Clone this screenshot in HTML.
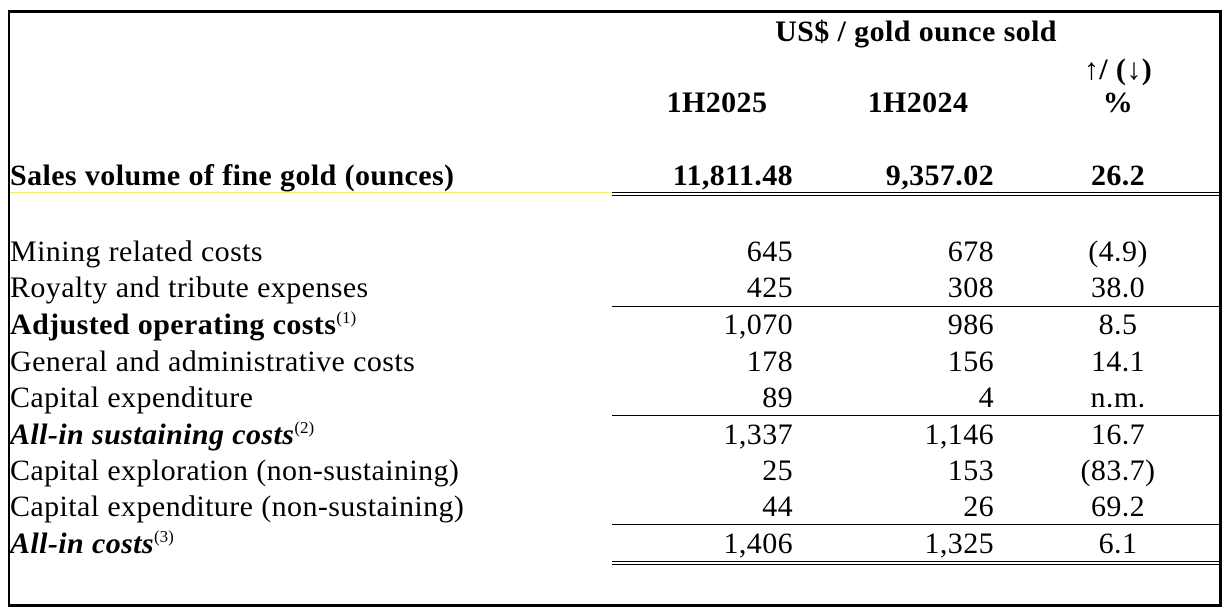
<!DOCTYPE html>
<html><head><meta charset="utf-8"><style>
body{margin:0;width:1229px;height:613px;background:#fff;position:relative;overflow:hidden;font-family:"Liberation Serif",serif;color:#000}
.t{position:absolute;font-size:30px;line-height:30px;white-space:nowrap;letter-spacing:0.4px}
.b{font-weight:bold}
.l{left:10px}
.c1{right:436px;text-align:right}
.c2{right:235px;text-align:right}
.c3{left:1018px;width:200px;text-align:center}
.h{position:absolute;background:#000;height:1px}
sup{font-size:17px;vertical-align:0;position:relative;top:-11px;letter-spacing:0}
</style></head><body>
<div style="position:absolute;left:8px;top:10px;width:1209px;height:591px;border-top:3px solid #000;border-left:2px solid #000;border-right:3px solid #000;border-bottom:3px solid #000"></div>
<div class="t b" style="left:716px;width:400px;text-align:center;top:17px">US$ / gold ounce sold</div>
<div class="t b" style="left:1018px;width:200px;text-align:center;top:55px">↑/ (↓)</div>
<div class="t b" style="left:617px;width:200px;text-align:center;top:88px">1H2025</div>
<div class="t b" style="left:818px;width:200px;text-align:center;top:88px">1H2024</div>
<div class="t b c3" style="top:88px">%</div>

<div class="t b l" style="top:161px">Sales volume of fine gold (ounces)</div>
<div class="t b c1" style="top:161px">11,811.48</div>
<div class="t b c2" style="top:161px">9,357.02</div>
<div class="t b c3" style="top:161px">26.2</div>
<div class="h" style="left:10px;width:602px;top:192px;background:#ff0"></div>
<div class="h" style="left:612px;width:607px;top:192px"></div>
<div class="h" style="left:612px;width:607px;top:195px"></div>

<div class="t l" style="top:237px">Mining related costs</div><div class="t c1" style="top:237px">645</div><div class="t c2" style="top:237px">678</div><div class="t c3" style="top:237px">(4.9)</div>
<div class="t l" style="top:273px">Royalty and tribute expenses</div><div class="t c1" style="top:273px">425</div><div class="t c2" style="top:273px">308</div><div class="t c3" style="top:273px">38.0</div>
<div class="h" style="left:612px;width:607px;top:306px"></div>
<div class="t b l" style="top:310px">Adjusted operating costs<sup style="font-weight:normal">(1)</sup></div><div class="t c1" style="top:310px">1,070</div><div class="t c2" style="top:310px">986</div><div class="t c3" style="top:310px">8.5</div>
<div class="t l" style="top:347px">General and administrative costs</div><div class="t c1" style="top:347px">178</div><div class="t c2" style="top:347px">156</div><div class="t c3" style="top:347px">14.1</div>
<div class="t l" style="top:383px">Capital expenditure</div><div class="t c1" style="top:383px">89</div><div class="t c2" style="top:383px">4</div><div class="t c3" style="top:383px">n.m.</div>
<div class="h" style="left:612px;width:607px;top:415px"></div>
<div class="t b l" style="top:420px;font-style:italic">All-in sustaining costs<sup style="font-weight:normal;font-style:normal">(2)</sup></div><div class="t c1" style="top:420px">1,337</div><div class="t c2" style="top:420px">1,146</div><div class="t c3" style="top:420px">16.7</div>
<div class="t l" style="top:456px">Capital exploration (non-sustaining)</div><div class="t c1" style="top:456px">25</div><div class="t c2" style="top:456px">153</div><div class="t c3" style="top:456px">(83.7)</div>
<div class="t l" style="top:492px">Capital expenditure (non-sustaining)</div><div class="t c1" style="top:492px">44</div><div class="t c2" style="top:492px">26</div><div class="t c3" style="top:492px">69.2</div>
<div class="h" style="left:612px;width:607px;top:524px"></div>
<div class="t b l" style="top:529px;font-style:italic">All-in costs<sup style="font-weight:normal;font-style:normal">(3)</sup></div><div class="t c1" style="top:529px">1,406</div><div class="t c2" style="top:529px">1,325</div><div class="t c3" style="top:529px">6.1</div>
<div class="h" style="left:612px;width:607px;top:561px"></div>
<div class="h" style="left:612px;width:607px;top:564px"></div>
</body></html>
